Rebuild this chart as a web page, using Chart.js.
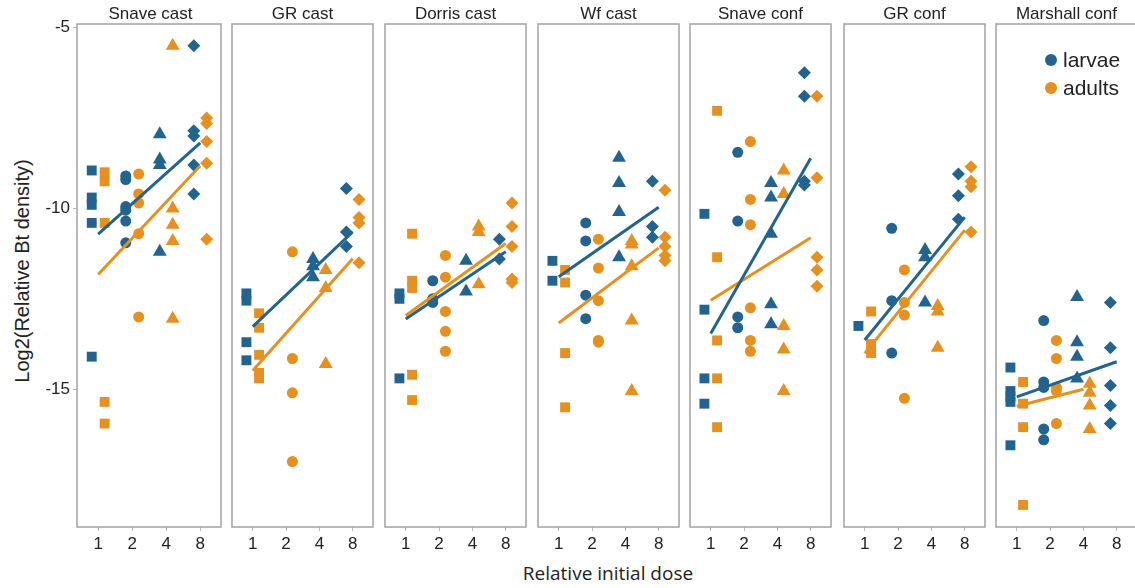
<!DOCTYPE html>
<html>
<head>
<meta charset="utf-8">
<title>Log2 relative Bt density by dose</title>
<script src="https://cdn.jsdelivr.net/npm/chart.js@4.4.1/dist/chart.umd.min.js"></script>
<style>
  body { margin: 0; background: #fff; overflow: hidden; }
  #wrap { position: relative; width: 1135px; height: 588px; overflow: hidden;
          font-family: "Liberation Sans", Arial, sans-serif; color: #222; }
  #wrap canvas { position: absolute; top: 0; }
  .ptitle { position: absolute; top: 4px; width: 147px; text-align: center; font-size: 17px; line-height: 20px; white-space: nowrap; }
  #ytitle { position: absolute; left: 22px; top: 271px; transform: translate(-50%, -50%) rotate(-90deg);
            font-size: 20px; white-space: nowrap; }
  #xtitle { position: absolute; left: 608px; top: 573px; transform: translate(-50%, -50%);
            font-family: "Open Sans", sans-serif; font-size: 19px; white-space: nowrap; }
  .leg { position: absolute; left: 1045px; font-size: 21px; line-height: 24px; white-space: nowrap; }
  .leg i { display: inline-block; width: 12px; height: 12px; border-radius: 50%; margin-right: 6px; vertical-align: 1px; }
</style>
</head>
<body>
<div id="wrap">
  <div id="ytitle">Log2(Relative Bt density)</div>
  <div id="xtitle">Relative initial dose</div>
</div>
<script>
// facets, doses and tick labels
const panels = ['Snave cast', 'GR cast', 'Dorris cast', 'Wf cast', 'Snave conf', 'GR conf', 'Marshall conf'];
const doses = [1, 2, 4, 8];
const doseShapes = ['rect', 'circle', 'triangle', 'rectRot'];
const yTicks = [-5, -10, -15];

// log2 density per panel, per dose (1, 2, 4, 8)
const larvae = [
    [[-8.95, -9.7, -9.9, -10.4, -14.1], [-9.1, -9.2, -9.95, -10.05, -10.35, -10.95], [-7.95, -8.65, -8.8, -11.2], [-5.5, -7.85, -8.0, -8.8, -9.6]],
    [[-12.35, -12.55, -13.7, -14.2], [], [-11.4, -11.6, -11.9], [-9.45, -10.65, -11.05]],
    [[-12.35, -12.5, -14.7], [-12.0, -12.5, -12.6], [-11.45, -12.3], [-10.85, -11.4]],
    [[-11.45, -12.0], [-10.4, -10.9, -12.4, -13.05], [-8.6, -9.3, -10.1, -11.35], [-9.25, -10.5, -10.8]],
    [[-10.15, -12.8, -14.7, -15.4], [-8.45, -10.35, -13.0, -13.3], [-9.3, -9.7, -10.7, -12.65, -13.2], [-6.25, -6.9, -9.25, -9.35]],
    [[-13.25], [-10.55, -12.55, -14.0], [-11.15, -11.35, -12.6], [-9.05, -9.65, -10.3]],
    [[-14.4, -15.05, -15.2, -15.35, -16.55], [-13.1, -14.8, -14.95, -16.1, -16.4], [-12.45, -13.7, -14.1, -14.7], [-12.6, -13.85, -14.9, -15.45, -15.95]]
];
const adults = [
    [[-9.0, -9.25, -10.4, -15.35, -15.95], [-9.05, -9.6, -9.85, -10.7, -13.0], [-5.5, -10.0, -10.45, -10.9, -13.05], [-7.5, -7.65, -8.15, -8.75, -10.85]],
    [[-12.9, -13.3, -14.05, -14.55, -14.7], [-11.2, -14.15, -15.1, -17.0], [-11.7, -12.2, -14.3], [-9.75, -10.25, -10.4, -11.5]],
    [[-10.7, -12.0, -12.2, -14.6, -15.3], [-11.3, -11.9, -12.85, -13.4, -13.95], [-10.5, -10.65, -12.1], [-9.85, -10.5, -11.05, -11.95, -12.05]],
    [[-11.7, -12.05, -14.0, -15.5], [-10.85, -11.65, -12.55, -13.65, -13.7], [-10.9, -11.0, -11.6, -13.1, -15.05], [-9.5, -10.8, -11.05, -11.3, -11.45]],
    [[-7.3, -11.35, -13.65, -14.7, -16.05], [-8.15, -9.75, -10.45, -12.75, -13.65, -13.95], [-8.95, -9.6, -13.25, -13.9, -15.05], [-6.9, -9.15, -11.35, -11.7, -12.15]],
    [[-12.85, -13.75, -14.0], [-11.7, -12.6, -12.95, -15.25], [-12.7, -12.85, -13.85], [-8.85, -9.25, -9.4, -10.65]],
    [[-14.8, -15.4, -16.05, -18.2], [-13.65, -14.15, -14.95, -15.05, -15.95], [-14.85, -15.1, -15.45, -16.1], []]
];

// fitted line: value at dose 1 and at the highest dose with data
const larvaeFit = [[-10.71, -8.19], [-13.27, -10.65], [-13.06, -11.2], [-11.89, -9.97], [-13.46, -8.61], [-13.64, -10.24], [-15.21, -14.24]];
const adultsFit = [[-11.83, -8.82], [-14.48, -11.39], [-12.96, -10.97], [-13.17, -11.09], [-12.54, -10.81], [-14.01, -10.6], [-15.47, -15.0]];

const colors = { larvae: '#22648f', adults: '#e6901f' };
const panelLeft = [77, 229, 382, 535, 687, 841, 993];
const panelWidth = 147;
const canvasHeight = 560;
const yMin = -18.81, yMax = -4.9;
const xMin = -0.623, xMax = 3.61;
const dodge = 0.19;
const shapeRadius = { rect: 7, circle: 5.5, triangle: 8, rectRot: 6.5 };

const panelFrame = {
    id: 'panelFrame',
    afterDatasetsDraw(chart) {
        const a = chart.chartArea;
        const ctx = chart.ctx;
        ctx.save();
        ctx.strokeStyle = '#a3a3a3';
        ctx.lineWidth = 1.5;
        ctx.strokeRect(a.left, a.top, a.right - a.left, a.bottom - a.top);
        ctx.restore();
    }
};

function groupDatasets(values, fit, color, offset) {
    const sets = [];
    let lastDose = 0;
    values.forEach((vals, i) => {
        if (vals.length) lastDose = i;
        sets.push({
            type: 'scatter',
            data: vals.map(v => ({ x: Math.log2(doses[i]) + offset, y: v })),
            pointStyle: doseShapes[i],
            pointRadius: shapeRadius[doseShapes[i]],
            backgroundColor: color,
            borderColor: color,
            borderWidth: 0,
            order: 1
        });
    });
    sets.push({
        type: 'line',
        data: [{ x: 0, y: fit[0] }, { x: Math.log2(doses[lastDose]), y: fit[1] }],
        borderColor: color,
        borderWidth: 3,
        pointRadius: 0,
        fill: false,
        order: 0
    });
    return sets;
}

function buildPanel(p) {
    const wrap = document.getElementById('wrap');
    const first = p === 0;
    const padSide = 5;
    const canvas = document.createElement('canvas');
    const left = first ? 0 : panelLeft[p] - padSide;
    const width = first ? panelLeft[0] + panelWidth + padSide : panelWidth + 2 * padSide;
    canvas.width = width;
    canvas.height = canvasHeight;
    canvas.style.left = left + 'px';
    wrap.appendChild(canvas);

    const title = document.createElement('div');
    title.className = 'ptitle';
    title.style.left = panelLeft[p] + 'px';
    title.textContent = panels[p];
    wrap.appendChild(title);

    const datasets = [
        ...groupDatasets(larvae[p], larvaeFit[p], colors.larvae, -dodge),
        ...groupDatasets(adults[p], adultsFit[p], colors.adults, dodge)
    ];

    new Chart(canvas, {
        type: 'scatter',
        data: { datasets },
        options: {
            responsive: false,
            animation: false,
            layout: { padding: { left: first ? 0 : padSide, right: padSide, top: 24, bottom: 0 } },
            plugins: { legend: { display: false }, tooltip: { enabled: false } },
            scales: {
                x: {
                    type: 'linear',
                    min: xMin,
                    max: xMax,
                    afterBuildTicks: s => { s.ticks = doses.map(d => ({ value: Math.log2(d) })); },
                    afterFit: s => { s.height = canvasHeight - 527; },
                    ticks: {
                        callback: v => String(Math.round(2 ** v)),
                        font: { family: '"Liberation Sans", Arial, sans-serif', size: 17 },
                        color: '#222',
                        padding: 3,
                        maxRotation: 0,
                        autoSkip: false
                    },
                    grid: { drawOnChartArea: false, tickLength: 4, color: '#b8b8b8' },
                    border: { display: false }
                },
                y: {
                    type: 'linear',
                    display: first,
                    min: yMin,
                    max: yMax,
                    afterBuildTicks: s => { s.ticks = yTicks.map(v => ({ value: v })); },
                    afterFit: s => { s.width = first ? panelLeft[0] : 0; },
                    ticks: {
                        font: { family: '"Liberation Sans", Arial, sans-serif', size: 17 },
                        color: '#222',
                        padding: 3
                    },
                    grid: { drawOnChartArea: false, tickLength: 4, color: '#b8b8b8' },
                    border: { display: false }
                }
            }
        },
        plugins: [panelFrame]
    });
}

function buildLegend() {
    const wrap = document.getElementById('wrap');
    [['larvae', 48], ['adults', 76]].forEach(([name, top]) => {
        const row = document.createElement('div');
        row.className = 'leg';
        row.style.top = top + 'px';
        row.innerHTML = '<i style="background:' + colors[name] + '"></i>' + name;
        wrap.appendChild(row);
    });
}

document.addEventListener('DOMContentLoaded', function() {
    panels.forEach((name, p) => buildPanel(p));
    buildLegend();
});
</script>
</body>
</html>
